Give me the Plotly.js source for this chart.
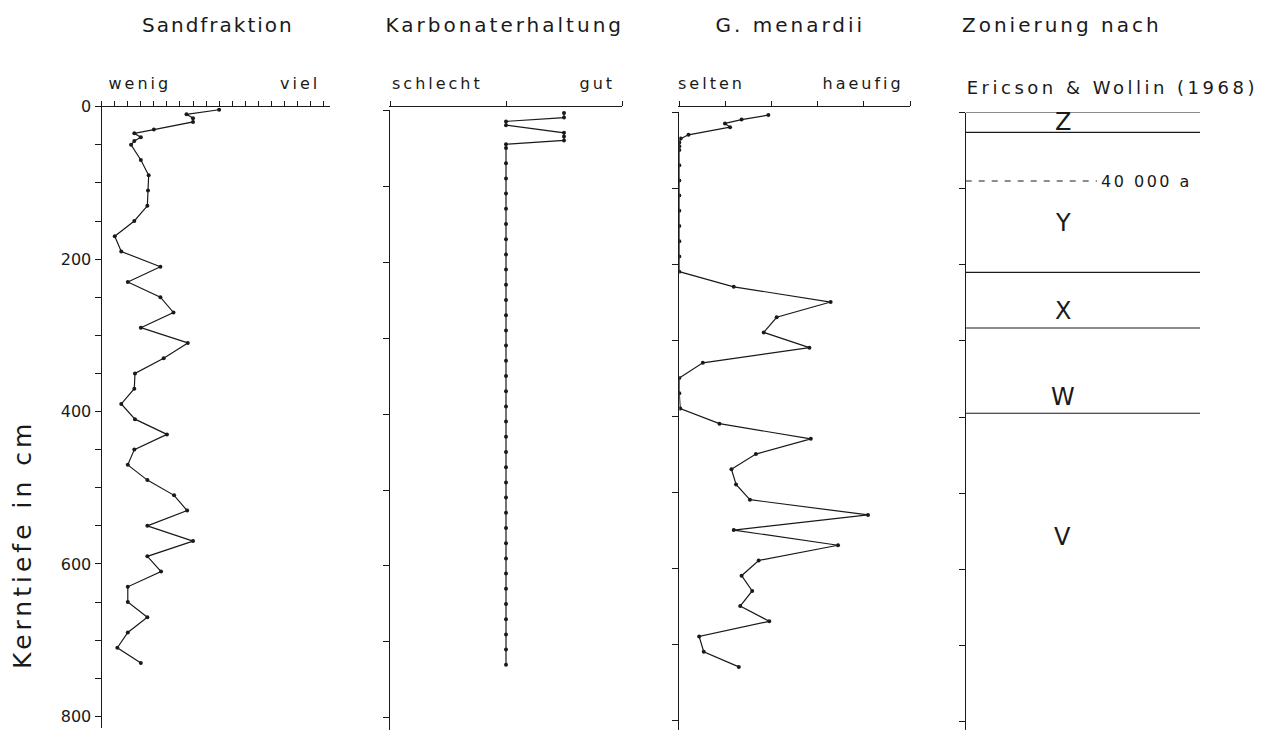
<!DOCTYPE html>
<html>
<head>
<meta charset="utf-8">
<script src="https://cdn.plot.ly/plotly-3.0.1.min.js"></script>
<style>
  body { margin: 0; background: #fff; }
  #chart { width: 1271px; height: 730px; }
</style>
</head>
<body>
<div id="chart"></div>
<script>
// sample depths (cm) shared by the three measured columns
const depth = [4, 10, 15, 20, 30, 35, 40, 45, 50,
  70, 90, 110, 130, 150, 170, 190, 210, 230, 250, 270, 290, 310, 330, 350, 370,
  390, 410, 430, 450, 470, 490, 510, 530, 550, 570, 590, 610, 630, 650, 670, 690, 710, 730];

// Sandfraktion, in tick units (wenig -> viel)
const sand = [9, 6.5, 7, 7, 4, 2.5, 3, 2.5, 2.25,
  3, 3.6, 3.55, 3.5, 2.5, 1, 1.5, 4.5, 2, 4.5, 5.5, 3, 6.6, 4.75, 2.55, 2.5,
  1.5, 2.55, 5, 2.5, 2, 3.5, 5.55, 6.55, 3.5, 7, 3.5, 4.55, 2, 2, 3.5, 2, 1.2, 3];

// Karbonaterhaltung (0 schlecht .. 2 gut)
const karbonat = [1.5, 1.5, 1, 1, 1.5, 1.5, 1.5, 1, 1,
  1, 1, 1, 1, 1, 1, 1, 1, 1, 1, 1, 1, 1, 1, 1, 1,
  1, 1, 1, 1, 1, 1, 1, 1, 1, 1, 1, 1, 1, 1, 1, 1, 1, 1];

// G. menardii (0 selten .. 5 haeufig)
const menardii = [1.93, 1.35, 0.99, 1.1, 0.2, 0.03, 0, 0, 0,
  0, 0, 0, 0, 0, 0, 0, 0, 1.18, 3.28, 2.11, 1.83, 2.82, 0.51, 0, 0,
  0.02, 0.87, 2.85, 1.66, 1.13, 1.23, 1.53, 4.09, 1.18, 3.44, 1.72, 1.35, 1.58, 1.32, 1.95, 0.43, 0.53, 1.29];

// Zonierung nach Ericson & Wollin (1968)
const zoneBounds = [0, 26, 210, 283, 395];
const zoneLetters = ['Z', 'Y', 'X', 'W', 'V'];
const zoneLetterDepth = [12, 145, 261, 374, 558];
const ageDepth = 90;
const ageLabel = '40 000 a';

const titles = ['Sandfraktion', 'Karbonaterhaltung', 'G. menardii', 'Zonierung nach'];
const subLabels = ['wenig', 'viel', 'schlecht', 'gut', 'selten', 'haeufig'];

const W = 1271, H = 730;
const px = x => x / W;
const py = y => 1 - y / H;
const ink = '#1a1a1a';
const fam = 'DejaVu Sans ExtraLight, DejaVu Sans, sans-serif';

const lineStyle = {color: ink, width: 1.2};
const markerStyle = {color: ink, size: 4};

const traces = [
  {x: sand, y: depth, xaxis: 'x', yaxis: 'y', mode: 'lines+markers', line: lineStyle, marker: markerStyle},
  {x: karbonat, y: depth, xaxis: 'x2', yaxis: 'y2', mode: 'lines+markers', line: lineStyle, marker: markerStyle},
  {x: menardii, y: depth, xaxis: 'x3', yaxis: 'y3', mode: 'lines+markers', line: lineStyle, marker: markerStyle},
];

function xAx(left, right, range, dtick) {
  return {
    domain: [px(left), px(right)], range: range, side: 'top',
    showline: true, linecolor: ink, linewidth: 1.2,
    ticks: 'outside', ticklen: 5, tickcolor: ink, tick0: 0, dtick: dtick,
    showticklabels: false, showgrid: false, zeroline: false, fixedrange: true,
  };
}
function yAx(top, bottom, range, anchor, extra) {
  return Object.assign({
    domain: [py(bottom), py(top)], range: range, anchor: anchor,
    showline: true, linecolor: ink, linewidth: 1.2,
    ticks: 'outside', ticklen: 6, tickcolor: ink, tick0: 0, dtick: 100,
    showticklabels: false, showgrid: false, zeroline: false, fixedrange: true,
  }, extra || {});
}

const shapes = [];
zoneBounds.forEach((d, i) => {
  shapes.push({type: 'line', xref: 'x4', yref: 'y4', x0: i === 0 ? -0.017 : 0, x1: 1, y0: d, y1: d,
    line: {color: ink, width: 1.2}});
});
shapes.push({type: 'line', xref: 'x4', yref: 'y4', x0: 0, x1: 0.56, y0: ageDepth, y1: ageDepth,
  line: {color: ink, width: 1.1, dash: '6px,7px'}});

const annotations = [];
const spacing = [];
function note(text, x, y, size, ls, extra) {
  annotations.push(Object.assign({text: text, xref: 'paper', yref: 'paper', x: px(x), y: py(y),
    showarrow: false, xanchor: 'center', yanchor: 'middle',
    font: {family: fam, size: size, color: ink}}, extra || {}));
  spacing.push(ls);
}
note(titles[0], 218, 25, 20, 2);
note(titles[1], 505, 25, 20, 3);
note(titles[2], 790, 25, 20, 3);
note(titles[3], 1062, 25, 20, 3);
note(subLabels[0], 140, 84, 16, 3);
note(subLabels[1], 300, 84, 16, 3);
note(subLabels[2], 437, 84, 16, 3);
note(subLabels[3], 597, 84, 16, 3);
note(subLabels[4], 711, 84, 16, 3);
note(subLabels[5], 863, 84, 16, 3);
note('Ericson & Wollin (1968)', 1112, 87, 18, 3.5);
note('Kerntiefe in cm', 22, 545, 25, 4, {textangle: -90});
zoneLetters.forEach((z, i) => {
  annotations.push({text: z, xref: 'x4', yref: 'y4', x: 0.415, y: zoneLetterDepth[i], showarrow: false,
    xanchor: 'center', yanchor: 'middle', font: {family: fam, size: 24, color: ink}});
  spacing.push(0);
});
annotations.push({text: ageLabel, xref: 'x4', yref: 'y4', x: 0.61, y: ageDepth, showarrow: false,
  xanchor: 'left', yanchor: 'middle', font: {family: fam, size: 16, color: ink}});
spacing.push(2.5);

const layout = {
  width: W, height: H,
  margin: {l: 0, r: 0, t: 0, b: 0},
  paper_bgcolor: '#fff', plot_bgcolor: 'rgba(0,0,0,0)',
  showlegend: false,
  font: {family: fam, color: ink},
  xaxis: xAx(101.7, 330, [0, 17.5], 1),
  yaxis: yAx(106.7, 728, [815.3, 0], 'x', {
    tickvals: [0, 200, 400, 600, 800], showticklabels: true,
    tickfont: {family: fam, size: 16, color: ink},
    minor: {tick0: 0, dtick: 50, ticks: 'outside', ticklen: 6, tickcolor: ink},
  }),
  xaxis2: xAx(390, 622, [0, 2], 1),
  yaxis2: yAx(110, 730, [815.8, 0], 'x2'),
  xaxis3: xAx(679.3, 910, [0, 5], 1),
  yaxis3: yAx(112, 730, [813, 0], 'x3'),
  xaxis4: {domain: [px(965.7), px(1200)], range: [0, 1], visible: false, fixedrange: true},
  yaxis4: yAx(112.5, 730, [811, 0], 'x4'),
  shapes: shapes,
  annotations: annotations,
};

Plotly.newPlot('chart', traces, layout, {staticPlot: true}).then(() => {
  // plotter lettering is wide-spaced
  document.querySelectorAll('.annotation').forEach(g => {
    const i = +g.getAttribute('data-index');
    const t = g.querySelector('.annotation-text');
    if (t && spacing[i]) t.style.letterSpacing = spacing[i] + 'px';
  });
});
</script>
</body>
</html>
